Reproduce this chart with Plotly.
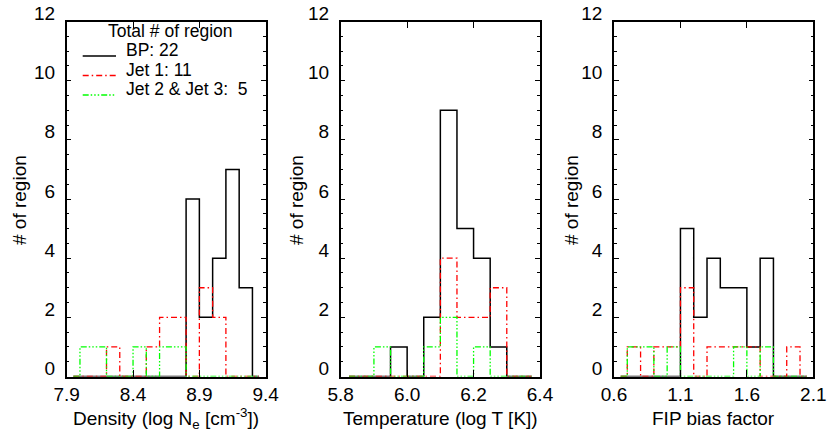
import plotly.graph_objects as go

# ---------------- data ----------------
# Panel 1: density (log Ne), bins of 0.1 starting at 7.9
dens_bin_start = [7.9, 8.0, 8.1, 8.2, 8.3, 8.4, 8.5, 8.6, 8.7, 8.8, 8.9, 9.0, 9.1, 9.2, 9.3]
dens_bp   = [0, 0, 0, 0, 0, 0, 0, 0, 0, 6, 2, 4, 7, 3, 0]
dens_jet1 = [0, 0, 0, 1, 0, 0, 1, 2, 2, 0, 3, 2, 0, 0, 0]
dens_jet23 = [0, 1, 1, 0, 0, 1, 0, 1, 1, 0, 0, 0, 0, 0, 0]
dens_width = 0.1

# Panel 2: temperature (log T), bins of 0.05 starting at 5.8
temp_bin_start = [5.8, 5.85, 5.9, 5.95, 6.0, 6.05, 6.1, 6.15, 6.2, 6.25, 6.3, 6.35]
temp_bp   = [0, 0, 0, 1, 0, 2, 9, 5, 4, 1, 0, 0]
temp_jet1 = [0, 0, 0, 0, 0, 0, 4, 2, 2, 3, 0, 0]
temp_jet23 = [0, 0, 1, 0, 0, 1, 2, 0, 1, 0, 0, 0]
temp_width = 0.05

# Panel 3: FIP bias, bins of 0.1 starting at 0.6
fip_bin_start = [0.6, 0.7, 0.8, 0.9, 1.0, 1.1, 1.2, 1.3, 1.4, 1.5, 1.6, 1.7, 1.8, 1.9, 2.0]
fip_bp   = [0, 0, 0, 0, 0, 5, 2, 4, 3, 3, 1, 4, 0, 0, 0]
fip_jet1 = [0, 1, 0, 1, 1, 3, 0, 1, 1, 1, 1, 0, 0, 1, 0]
fip_jet23 = [0, 1, 1, 0, 1, 0, 0, 0, 0, 1, 0, 1, 0, 0, 0]
fip_width = 0.1

x_ticks = [[7.9, 8.4, 8.9, 9.4], [5.8, 6.0, 6.2, 6.4], [0.6, 1.1, 1.6, 2.1]]
x_ticktext = [["7.9", "8.4", "8.9", "9.4"], ["5.8", "6.0", "6.2", "6.4"], ["0.6", "1.1", "1.6", "2.1"]]
x_titles = ["Density (log N<sub>e</sub> [cm<sup>-3</sup>])", "Temperature (log T [K])", "FIP bias factor"]
y_title = "# of region"
y_ticks = [0, 2, 4, 6, 8, 10, 12]

legend_title = "Total # of region"
series_names = ["BP: 22", "Jet 1: 11", "Jet 2 & Jet 3:  5"]

# ---------------- styling ----------------
W, H = 830, 438
FONT = "Liberation Sans, Arial, Helvetica, sans-serif"
FS = 19
LFS = 17.5
colors = ["#000000", "#ff0000", "#00ff00"]
dashes = ["solid", "6px,3px,1.5px,3px", "6px,2px,1.5px,2px,1.5px,2px,1.5px,2px"]
widths = [1.5, 1.3, 1.3]

top_px, bot_px = 21.5, 376.5
x_px = [(66.7, 265.7), (340.7, 540.0), (614.0, 813.3)]


def px2x(p):
    return p / W


def px2y(p):
    return 1 - p / H


panels = [
    (dens_bin_start, dens_width, [dens_bp, dens_jet1, dens_jet23]),
    (temp_bin_start, temp_width, [temp_bp, temp_jet1, temp_jet23]),
    (fip_bin_start, fip_width, [fip_bp, fip_jet1, fip_jet23]),
]

fig = go.Figure()
for i, (starts, width, series) in enumerate(panels):
    ax = "" if i == 0 else str(i + 1)
    centers = [s + width / 2 for s in starts]
    for k, counts in enumerate(series):
        fig.add_trace(go.Scatter(
            x=centers, y=counts, mode="lines", line_shape="hvh",
            line=dict(color=colors[k], width=widths[k], dash=dashes[k]),
            xaxis="x" + ax, yaxis="y" + ax, showlegend=False, hoverinfo="skip",
        ))
    x0 = starts[0]
    x1 = starts[-1] + width
    common = dict(showline=True, linecolor="black", linewidth=1.5, mirror="ticks",
                  ticks="inside", tickcolor="black", showgrid=False, zeroline=False,
                  tickfont=dict(family=FONT, size=FS, color="black"))
    fig.update_layout(**{
        "xaxis" + ax: dict(domain=[px2x(x_px[i][0]), px2x(x_px[i][1])], range=[x0, x1],
                           tickvals=x_ticks[i], ticktext=x_ticktext[i], ticklen=7,
                           anchor="y" + ax, **common),
        "yaxis" + ax: dict(domain=[px2y(bot_px), px2y(top_px)], range=[0, 12],
                           tickvals=y_ticks, ticklen=5, anchor="x" + ax,
                           minor=dict(dtick=0.5, ticklen=3, ticks="inside", tickcolor="black"),
                           ticklabelstandoff=6, ticklabelshift=-8, **common),
    })
    # axis titles
    fig.add_annotation(text=x_titles[i], xref="paper", yref="paper",
                       x=px2x((x_px[i][0] + x_px[i][1]) / 2), y=px2y(418),
                       xanchor="center", yanchor="middle", showarrow=False,
                       font=dict(family=FONT, size=FS, color="black"))
    ytx = [19, 296, 571][i]
    fig.add_annotation(text=y_title, xref="paper", yref="paper",
                       x=px2x(ytx), y=px2y(200), textangle=-90,
                       xanchor="center", yanchor="middle", showarrow=False,
                       font=dict(family=FONT, size=FS, color="black"))

# legend (manual)
fig.add_annotation(text=legend_title, xref="paper", yref="paper",
                   x=px2x(170), y=px2y(31), xanchor="center", yanchor="middle",
                   showarrow=False, font=dict(family=FONT, size=LFS, color="black"))
leg_text_y = [50, 69.5, 89]
for k, name in enumerate(series_names):
    fig.add_annotation(text=name, xref="paper", yref="paper",
                       x=px2x(124), y=px2y(leg_text_y[k]), xanchor="left", yanchor="middle",
                       showarrow=False, font=dict(family=FONT, size=LFS, color="black"))
    ly = leg_text_y[k] + 6
    fig.add_shape(type="line", xref="paper", yref="paper",
                  x0=px2x(82.7), x1=px2x(116), y0=px2y(ly), y1=px2y(ly),
                  line=dict(color=colors[k], width=widths[k], dash=dashes[k]))

fig.update_layout(width=W, height=H, margin=dict(l=0, r=0, t=0, b=0, autoexpand=False),
                  paper_bgcolor="white", plot_bgcolor="white",
                  font=dict(family=FONT, size=FS, color="black"))

fig.write_html("out.html", config={"displayModeBar": False},
               post_script="document.body.style.margin='0px';")
